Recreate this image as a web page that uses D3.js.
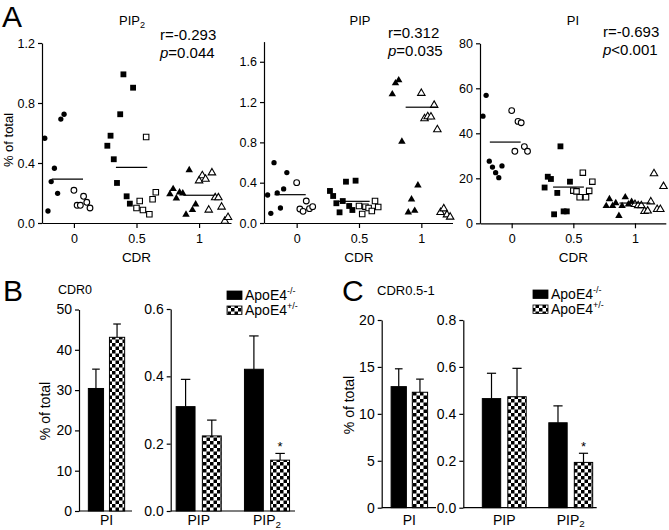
<!DOCTYPE html>
<html><head><meta charset="utf-8">
<script src="https://cdn.jsdelivr.net/npm/d3@7"></script>
<style>
body{margin:0;background:#fff}
text{font-family:"Liberation Sans",Arial,Helvetica,sans-serif;fill:#000}
.axis path,.axis line{stroke:#000;stroke-width:1.2}
</style></head><body>
<svg id="c" width="669" height="530"></svg>
<script>
// ---------- DATA ----------
const cdrLevels = [0, 0.5, 1];
const cdrTickLabels = ["0", "0.5", "1"];
// values in plotted (left-to-right) order; index 0 = CDR0, 1 = CDR0.5, 2 = CDR1
// ApoE4-/- (filled) and ApoE4+/- (open)
const pip2Neg = [[0.565,0.08,0.276,0.365,0.198,0.693,0.725],
                 [0.515,0.582,0.425,0.267,0.725,0.991,0.178,0.129,0.902],
                 [0.193,0.227,0.164,0.205,0.198,0.056,0.353,0.087,0.124]];
const pip2Pos = [[0.218,0.118,0.118,0.178,0.138,0.1],
                 [0.1,0.147,0.087,0.573,0.058,0.158,0.205],
                 [0.282,0.316,0.293,0.087,0.335,0.169,0.169,0.107,0.013,0.038]];
const pip2Means = [0.293, 0.371, 0.185];

const pipNeg = [[0.278,0.096,0.599,0.298,0.149,0.338,0.5],
                [0.318,0.268,0.196,0.106,0.218,0.41,0.169,0.129,0.42],
                [1.278,1.387,1.417,0.807,null,0.106,0.235,0.122,0.374]];
const pipPos = [[0.4,0.139,0.116,0.218,0.142,0.162],
                [0.169,0.089,0.162,0.149,0.119,0.218,0.159],
                [1.288,1.036,1.056,1.053,1.169,0.927,0.106,0.142,0.082,0.06]];
const pipMeans = [0.281, 0.215, 1.149];

const piNeg = [[47.6,56.9,27.6,25.0,22.5,20.3,25.5],
               [15.9,20.7,19.7,4.0,13.5,34.2,5.3,5.3,18.5],
               [7.7,10.8,7.7,9.0,3.3,7.7,11.6,8.4,9.6]];
const piPos = [[50.1,32.0,45.3,44.7,34.1,32.0],
               [14.5,14.2,11.6,22.5,11.6,14.4,18.5],
               [8.4,7.9,7.9,5.3,5.5,9.6,22.1,6.2,6.2,16.4]];
const piMeans = [36.1, 16.1, 9.0];

const statsR = ["r=-0.293", "r=0.312", "r=-0.693"];
const statsP = ["=0.044", "=0.035", "<0.001"];

const genotypes = ["neg", "pos"];
// Panel B (CDR0)
const bPIMeans = [30.4, 43.1], bPISem = [4.8, 3.3];
const bCats = ["PIP", "PIP2"];
const bNegMeans = [0.31, 0.421], bNegSem = [0.081, 0.099];
const bPosMeans = [0.223, 0.151], bPosSem = [0.047, 0.02];
// Panel C (CDR0.5-1)
const cPIMeans = [12.9, 12.3], cPISem = [1.9, 1.4];
const cNegMeans = [0.465, 0.362], cNegSem = [0.108, 0.072];
const cPosMeans = [0.473, 0.193], cPosSem = [0.121, 0.039];

// ---------- DRAW ----------
const svg = d3.select("#c");
const defs = svg.append("defs");
const CELL = 3.5;
const pat = defs.append("pattern").attr("id","chk").attr("width",CELL*2).attr("height",CELL*2)
  .attr("patternUnits","userSpaceOnUse");
pat.append("rect").attr("width",CELL*2).attr("height",CELL*2).attr("fill","#fff");
pat.append("rect").attr("width",CELL).attr("height",CELL).attr("fill","#000");
pat.append("rect").attr("x",CELL).attr("y",CELL).attr("width",CELL).attr("height",CELL).attr("fill","#000");

function labelWithSub(sel, base, sub, size, drop) {
  sel.append("tspan").text(base);
  if (sub) sel.append("tspan").attr("font-size", size*0.7).attr("dy", drop).text(sub);
}

const NEG_OFF = -0.233, STEP = 0.0257;
const shapes = [d3.symbolCircle, d3.symbolSquare, d3.symbolTriangle];

function scatter(cfg) {
  const g = svg.append("g");
  const x = d3.scaleLinear().domain(cfg.xDomain).range(cfg.xRange);
  const y = d3.scaleLinear().domain(cfg.yDomain).range(cfg.yRange);
  g.append("g").attr("class","axis").attr("transform",`translate(${cfg.xRange[0]},0)`)
    .call(d3.axisLeft(y).tickValues(cfg.yTicks).tickFormat(cfg.fmt).tickSize(4).tickSizeOuter(0).tickPadding(3));
  g.append("g").attr("class","axis").attr("transform",`translate(0,${cfg.yRange[0]})`)
    .call(d3.axisBottom(x).tickValues(cdrLevels).tickFormat((d,i)=>cdrTickLabels[i]).tickSize(5).tickSizeOuter(0).tickPadding(6));
  g.selectAll(".axis text").attr("font-size",12.5).attr("font-family",null).attr("fill","#000");

  cdrLevels.forEach((cdr, gi) => {
    const sym = shapes[gi];
    cfg.neg[gi].forEach((v, i) => {
      if (v == null) return;
      const size = gi===0 ? 22 : gi===1 ? 34 : 24;
      g.append("path").attr("d", d3.symbol().type(sym).size(size)())
        .attr("transform", `translate(${x(cdr + NEG_OFF + i*STEP)},${y(v)})`).attr("fill","#000");
    });
    cfg.pos[gi].forEach((v, i) => {
      const size = gi===0 ? 26 : gi===1 ? 30 : 24;
      g.append("path").attr("d", d3.symbol().type(sym).size(size)())
        .attr("transform", `translate(${x(cdr + i*STEP)},${y(v)})`)
        .attr("fill","#fff").attr("stroke","#000").attr("stroke-width",1.1);
    });
    const nPos = cfg.pos[gi].length;
    const c = cdr + (NEG_OFF + (nPos-1)*STEP)/2;
    g.append("line").attr("x1", x(c-0.125)).attr("x2", x(c+0.125))
      .attr("y1", y(cfg.means[gi])).attr("y2", y(cfg.means[gi])).attr("stroke","#000").attr("stroke-width",1.2);
  });
  g.append("text").attr("x", x(0.5)).attr("y", cfg.yRange[0]+39).attr("text-anchor","middle")
    .attr("font-size",13.5).text("CDR");
  const t = g.append("text").attr("x", cfg.titleX).attr("y", 24.5).attr("text-anchor","middle").attr("font-size",13);
  labelWithSub(t, cfg.title, cfg.titleSub, 13, 3);
  g.append("text").attr("x", cfg.statX).attr("y", cfg.statY).attr("font-size",15).text(cfg.r);
  const p = g.append("text").attr("x", cfg.statX).attr("y", cfg.statY+18).attr("font-size",15);
  p.append("tspan").attr("font-style","italic").text("p");
  p.append("tspan").text(cfg.p);
}

scatter({xDomain:[-0.255,1.255], xRange:[42,231], yDomain:[0,1.2], yRange:[223,43],
  yTicks:[0,0.4,0.8,1.2], fmt:d3.format(".1f"), neg:pip2Neg, pos:pip2Pos, means:pip2Means,
  title:"PIP", titleSub:"2", titleX:132, statX:160, statY:40, r:statsR[0], p:statsP[0]});
scatter({xDomain:[-0.262,1.25], xRange:[264,452.5], yDomain:[0,1.8], yRange:[223,41.6],
  yTicks:[0,0.4,0.8,1.2,1.6], fmt:d3.format(".1f"), neg:pipNeg, pos:pipPos, means:pipMeans,
  title:"PIP", titleSub:null, titleX:360, statX:388, statY:38, r:statsR[1], p:statsP[1]});
scatter({xDomain:[-0.257,1.25], xRange:[480,665.8], yDomain:[0,80], yRange:[223.3,43.3],
  yTicks:[0,20,40,60,80], fmt:d3.format("d"), neg:piNeg, pos:piPos, means:piMeans,
  title:"PI", titleSub:null, titleX:573, statX:603, statY:37, r:statsR[2], p:statsP[2]});

svg.append("text").attr("x",2).attr("y",27).attr("font-size",30).text("A");
svg.append("text").attr("transform","translate(13,140) rotate(-90)").attr("text-anchor","middle")
  .attr("font-size",13).text("% of total");

// ---------- BARS ----------
function bars(cfg) {
  const g = svg.append("g");
  const y = d3.scaleLinear().domain(cfg.yDomain).range(cfg.yRange);
  g.append("g").attr("class","axis").attr("transform",`translate(${cfg.axisX[0]},0)`)
    .call(d3.axisLeft(y).tickValues(cfg.yTicks).tickFormat(cfg.fmt).tickSize(4).tickSizeOuter(0).tickPadding(3));
  g.selectAll(".axis text").attr("font-size",14).attr("font-family",null).attr("fill","#000");
  g.append("line").attr("x1",cfg.axisX[0]).attr("x2",cfg.axisX[1]).attr("y1",y(0)).attr("y2",y(0))
    .attr("stroke","#000").attr("stroke-width",1.2);
  const x0 = d3.scaleBand().domain(cfg.cats).range(cfg.band).paddingInner(0.34).paddingOuter(0.08);
  const x1 = d3.scaleBand().domain(genotypes).range([0, x0.bandwidth()]).paddingInner(0.28);
  const bw = x1.bandwidth();
  cfg.cats.forEach((cat, ci) => {
    genotypes.forEach((gt, si) => {
      const m = cfg.means[si][ci], s = cfg.sems[si][ci];
      const bx = x0(cat) + x1(gt), cx = bx + bw/2;
      g.append("line").attr("x1",cx).attr("x2",cx).attr("y1",y(m)).attr("y2",y(m+s)).attr("stroke","#000").attr("stroke-width",1.2);
      g.append("line").attr("x1",cx-bw/4).attr("x2",cx+bw/4).attr("y1",y(m+s)).attr("y2",y(m+s)).attr("stroke","#000").attr("stroke-width",1.2);
      g.append("rect").attr("x",bx).attr("y",y(m)).attr("width",bw).attr("height",y(0)-y(m))
        .attr("fill", gt==="neg" ? "#000" : "url(#chk)").attr("stroke","#000").attr("stroke-width",1);
      if (cfg.sig && cfg.sig[ci] && gt==="pos")
        g.append("text").attr("x",cx).attr("y",y(m+s)-2).attr("text-anchor","middle").attr("font-size",13).text("*");
    });
    const lt = g.append("text").attr("x", x0(cat)+x0.bandwidth()/2).attr("y", Math.min(y(0)+17, 525))
      .attr("text-anchor","middle").attr("font-size",14);
    labelWithSub(lt, cat.replace(/2$/,""), /2$/.test(cat) ? "2" : null, 14, 2.5);
  });
}
function legend(x, y) {
  const g = svg.append("g");
  genotypes.forEach((gt, i) => {
    g.append("rect").attr("x",x).attr("y",y + i*15).attr("width",15).attr("height",8.5)
      .attr("fill", gt==="neg" ? "#000" : "url(#chk)").attr("stroke","#000").attr("stroke-width",0.8);
    const t = g.append("text").attr("x", x+18).attr("y", y + i*15 + 9).attr("font-size",14);
    t.append("tspan").text("ApoE4");
    t.append("tspan").attr("font-size",9).attr("dy",-6).text(gt==="neg" ? "-/-" : "+/-");
  });
}

// B
bars({yDomain:[0,50], yRange:[511,309.5], yTicks:[0,10,20,30,40,50], fmt:d3.format("d"),
  axisX:[79,132], band:[79,134], cats:["PI"], means:[[bPIMeans[0]],[bPIMeans[1]]], sems:[[bPISem[0]],[bPISem[1]]]});
bars({yDomain:[0,0.6], yRange:[511,309], yTicks:[0,0.2,0.4,0.6], fmt:d3.format(".1f"),
  axisX:[170.7,295], band:[170.7,295], cats:bCats, means:[bNegMeans,bPosMeans], sems:[bNegSem,bPosSem], sig:[false,true]});
legend(227, 291);
svg.append("text").attr("x",3).attr("y",301).attr("font-size",30).text("B");
svg.append("text").attr("x",58).attr("y",294).attr("font-size",12.5).text("CDR0");
svg.append("text").attr("transform","translate(50,411) rotate(-90)").attr("text-anchor","middle")
  .attr("font-size",14).text("% of total");

// C
bars({yDomain:[0,20], yRange:[507.7,320], yTicks:[0,5,10,15,20], fmt:d3.format("d"),
  axisX:[381.7,436], band:[381.7,437], cats:["PI"], means:[[cPIMeans[0]],[cPIMeans[1]]], sems:[[cPISem[0]],[cPISem[1]]]});
bars({yDomain:[0,0.8], yRange:[507.7,320], yTicks:[0,0.2,0.4,0.6,0.8], fmt:d3.format(".1f"),
  axisX:[463.3,596.7], band:[477,598], cats:bCats, means:[cNegMeans,cPosMeans], sems:[cNegSem,cPosSem], sig:[false,true]});
legend(533, 290);
svg.append("text").attr("x",342).attr("y",301).attr("font-size",30).text("C");
svg.append("text").attr("x",377).attr("y",295).attr("font-size",13).text("CDR0.5-1");
svg.append("text").attr("transform","translate(354,405) rotate(-90)").attr("text-anchor","middle")
  .attr("font-size",14).text("% of total");
</script></body></html>
